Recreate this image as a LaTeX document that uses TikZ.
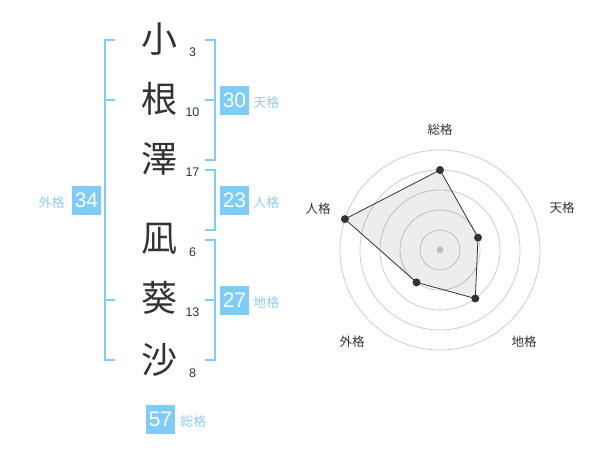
\documentclass[tikz,border=0pt]{standalone}
\usepackage{fontspec}
\setmainfont{Liberation Sans}
\newfontfamily\jp{Noto Sans CJK JP}
\usetikzlibrary{positioning}
\definecolor{kaku}{HTML}{7FCCF8}
\definecolor{kakutext}{HTML}{8DCFF3}
\definecolor{ink}{HTML}{333333}
\definecolor{ring}{HTML}{CCCCCC}

\begin{document}
\begin{tikzpicture}[x=1pt, y=-1pt,
  kanji/.style={text=ink, inner sep=0pt, font=\jp\fontsize{36}{36}\selectfont},
  strokes/.style={text=ink, inner sep=0pt, font=\fontsize{12.5}{13}\selectfont},
  box/.style={fill=kaku, text=white, minimum size=29pt, inner sep=0pt, font=\fontsize{21}{21}\selectfont},
  kakulabel/.style={text=kakutext, inner sep=0pt, font=\jp\fontsize{13}{13}\selectfont},
  bracket/.style={draw=kaku, line width=2pt},
  axis/.style={text=ink, inner sep=0pt, font=\jp\fontsize{12.5}{13}\selectfont},
  score/.style={circle, fill=ink, inner sep=0pt, minimum size=8pt}]
  \useasboundingbox (0,0) rectangle (600,470);

  \node[kanji] (c1) at (159,39) {小};
  \node[kanji] (c2) at (159,99) {根};
  \node[kanji] (c3) at (159,159) {澤};
  \node[kanji] (c4) at (159,239) {凪};
  \node[kanji] (c5) at (159,298) {葵};
  \node[kanji] (c6) at (159,360) {沙};

  \node[strokes] (n1) at (192.5,52) {3};
  \node[strokes] (n2) at (192.5,112) {10};
  \node[strokes] (n3) at (192.5,172) {17};
  \node[strokes] (n4) at (192.5,252) {6};
  \node[strokes] (n5) at (192.5,312) {13};
  \node[strokes] (n6) at (192.5,373) {8};

  \draw[bracket] (115,40) -- (105,40) -- (105,360) -- (115,360);
  \draw[bracket] (105,100) -- (115,100);
  \draw[bracket] (105,300) -- (115,300);
  \draw[bracket] (205,40) -- (214.5,40) -- (214.5,160) -- (205,160);
  \draw[bracket] (205,100) -- (214.5,100);
  \draw[bracket] (205,170) -- (214.5,170) -- (214.5,230) -- (205,230);
  \draw[bracket] (205,240) -- (214.5,240) -- (214.5,360) -- (205,360);
  \draw[bracket] (205,300) -- (214.5,300);

  \node[box] (ten) at (234.5,100.5) {30};
  \node[box] (jin) at (234.5,200.5) {23};
  \node[box] (chi) at (234.5,300.5) {27};
  \node[box] (gai) at (86.5,200.5) {34};
  \node[box] (sou) at (160.5,419.5) {57};
  \node[kakulabel, right=4pt of ten, yshift=-2pt] (tenl) {天格};
  \node[kakulabel, right=4pt of jin, yshift=-2pt] (jinl) {人格};
  \node[kakulabel, right=4pt of chi, yshift=-2pt] (chil) {地格};
  \node[kakulabel, left=7pt of gai, yshift=-2pt] (gail) {外格};
  \node[kakulabel, right=5pt of sou, yshift=-2pt] (soul) {総格};

  \coordinate (o) at (440,250);
  \foreach \r in {20,40,60,80,100}
    \draw[ring, line width=0.8pt] (o) circle[radius=\r pt];
  \fill[ring] (o) circle[radius=3.5pt];

  \coordinate (ps) at (440,170);
  \coordinate (pt) at (478,237.6);
  \coordinate (pc) at (475.3,298.5);
  \coordinate (pg) at (416.5,282.4);
  \coordinate (pj) at (344.9,219.1);
  \draw[ink, line width=0.8pt, fill=black, fill opacity=0.07] (ps) -- (pt) -- (pc) -- (pg) -- (pj) -- cycle;
  \node[score] (s1) at (ps) {};
  \node[score] (s2) at (pt) {};
  \node[score] (s3) at (pc) {};
  \node[score] (s4) at (pg) {};
  \node[score] (s5) at (pj) {};

  \node[axis] (a1) at (440,130) {総格};
  \node[axis] (a2) at (562,208) {天格};
  \node[axis] (a3) at (524,342) {地格};
  \node[axis] (a4) at (352,342) {外格};
  \node[axis] (a5) at (318,209) {人格};
\end{tikzpicture}
\end{document}
